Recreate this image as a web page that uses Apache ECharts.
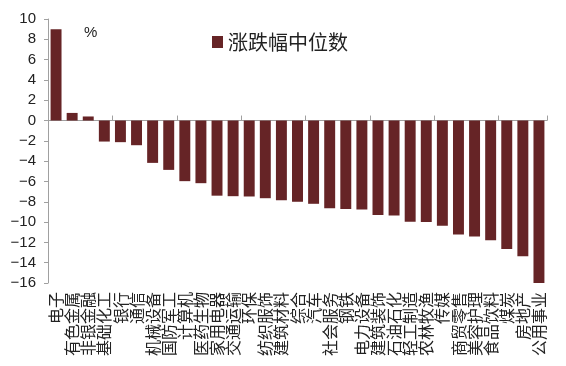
<!DOCTYPE html>
<html>
<head>
<meta charset="utf-8">
<script src="https://cdn.jsdelivr.net/npm/echarts@6/dist/echarts.min.js"></script>
<style>
  html, body { margin: 0; padding: 0; background: #fff; }
  #main { width: 566px; height: 366px; }
</style>
</head>
<body>
<div id="main"></div>
<script>
// 行业名称
var industries = ['电子', '有色金属', '非银金融', '基础化工', '银行', '通信', '机械设备', '国防军工',
    '计算机', '医药生物', '家用电器', '交通运输', '环保', '纺织服饰', '建筑材料', '综合',
    '汽车', '社会服务', '钢铁', '电力设备', '建筑装饰', '石油石化', '轻工制造', '农林牧渔',
    '传媒', '商贸零售', '美容护理', '食品饮料', '煤炭', '房地产', '公用事业'];
// 涨跌幅中位数 (%)
var medianChange = [9.0, 0.75, 0.4, -2.07, -2.13, -2.43, -4.17, -4.86,
    -5.97, -6.17, -7.4, -7.45, -7.48, -7.65, -7.85, -8.0,
    -8.2, -8.63, -8.7, -8.77, -9.3, -9.36, -9.98, -10.0,
    -10.37, -11.23, -11.43, -11.8, -12.64, -13.36, -16.0];

var barColor = '#662426';
var axisGrey = '#a0a0a0';
var cjk = '"Noto Sans CJK SC", "Liberation Sans", sans-serif';

var chart = echarts.init(document.getElementById('main'));
chart.setOption({
    animation: false,
    title: {
        text: '%',
        left: 79,
        top: 20,
        textStyle: { fontSize: 15, fontWeight: 'normal', color: '#222', fontFamily: '"Liberation Sans", sans-serif' }
    },
    legend: {
        data: ['涨跌幅中位数'],
        left: 207,
        top: 27,
        icon: 'rect',
        itemWidth: 11,
        itemHeight: 12,
        textStyle: { fontSize: 20, color: '#222', fontFamily: cjk }
    },
    grid: { left: 48, right: 19, top: 19, bottom: 83 },
    xAxis: [
        {
            type: 'category',
            data: industries,
            position: 'bottom',
            axisLine: { onZero: true, lineStyle: { color: axisGrey, width: 1 } },
            axisTick: { show: true, inside: true, length: 5, lineStyle: { color: axisGrey } },
            axisLabel: { show: false }
        },
        {
            type: 'category',
            data: industries,
            position: 'bottom',
            axisLine: { show: false, onZero: false },
            axisTick: { show: false },
            axisLabel: {
                interval: 0,
                rotate: 90,
                margin: 9,
                fontSize: 16,
                color: '#222',
                fontFamily: cjk
            }
        }
    ],
    yAxis: {
        type: 'value',
        min: -16,
        max: 10,
        interval: 2,
        splitLine: { show: false },
        axisLine: { show: true, lineStyle: { color: axisGrey } },
        axisTick: { show: true, length: 4, lineStyle: { color: axisGrey } },
        axisLabel: {
            fontSize: 15,
            color: '#222',
            margin: 12,
            fontFamily: '"Liberation Sans", sans-serif',
            formatter: function (v) { return String(v).replace('-', '\u2212'); }
        }
    },
    series: [{
        name: '涨跌幅中位数',
        type: 'bar',
        xAxisIndex: 0,
        data: medianChange,
        barWidth: '68%',
        itemStyle: { color: barColor }
    }]
});
</script>
</body>
</html>
